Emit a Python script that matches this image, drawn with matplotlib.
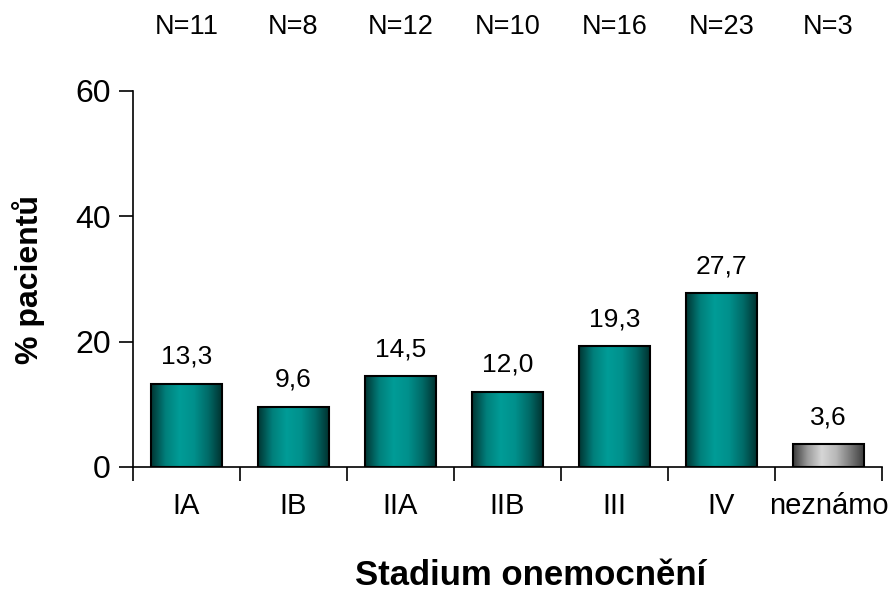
import numpy as np
import matplotlib.pyplot as plt
from matplotlib.colors import LinearSegmentedColormap

plt.rcParams['font.family'] = ['Liberation Sans', 'DejaVu Sans']

# Data
stages = ["IA", "IB", "IIA", "IIB", "III", "IV", "neznámo"]
percent = [13.3, 9.6, 14.5, 12.0, 19.3, 27.7, 3.6]
counts = [11, 8, 12, 10, 16, 23, 3]
value_labels = ["13,3", "9,6", "14,5", "12,0", "19,3", "27,7", "3,6"]

teal = LinearSegmentedColormap.from_list("teal", ["#003533", "#007f7b", "#009c97", "#00908c", "#006a67", "#002e2c"])
grey = LinearSegmentedColormap.from_list("grey", ["#3a3a3a", "#9a9a9a", "#d6d6d6", "#b8b8b8", "#7a7a7a", "#3a3a3a"])

fig = plt.figure(figsize=(8.93, 5.93), dpi=100)
ax = fig.add_axes([133/893, 1-467/593, (882-133)/893, (467-91)/593])

x = np.arange(len(stages))
width = 0.67
bars = ax.bar(x, percent, width=width, facecolor="none", edgecolor="black", linewidth=1.5, zorder=3)

grad = np.linspace(0, 1, 256).reshape(1, -1)
for i, b in enumerate(bars):
    cmap = grey if stages[i] == "neznámo" else teal
    x0, y0 = b.get_x(), b.get_y()
    w, h = b.get_width(), b.get_height()
    im = ax.imshow(grad, cmap=cmap, aspect="auto", extent=[x0, x0 + w, y0, y0 + h], zorder=2)
    im.set_clip_path(b)
    ax.text(x[i], percent[i] + 2.4, value_labels[i], ha="center", va="bottom", fontsize=19)

# patient counts above the plot
for i, n in enumerate(counts):
    ax.text(x[i], 1.17, "N=" + str(n), transform=ax.get_xaxis_transform(), ha="center", va="center", fontsize=19.5)

ax.set_xlim(-0.5, len(stages) - 0.5)
ax.set_ylim(0, 60)
ax.set_yticks([0, 20, 40, 60])
ax.tick_params(axis="y", direction="out", length=10, width=1.2, labelsize=23, pad=6)
ax.set_xticks(x)
ax.set_xticklabels(stages)
ax.tick_params(axis="x", length=0, labelsize=21, pad=18)
ax.set_xticks(np.arange(len(stages) + 1) - 0.5, minor=True)
ax.tick_params(axis="x", which="minor", direction="out", length=10, width=1.2)

for side in ["top", "right"]:
    ax.spines[side].set_visible(False)
ax.spines["left"].set_linewidth(1.2)
ax.spines["bottom"].set_linewidth(1.2)

ax.set_xlabel("Stadium onemocnění", fontsize=25, fontweight="bold")
ax.xaxis.set_label_coords(0.531, -0.245)
ax.set_ylabel("% pacientů", fontsize=23, fontweight="bold", labelpad=22)

fig.savefig("out.png", dpi=100)
